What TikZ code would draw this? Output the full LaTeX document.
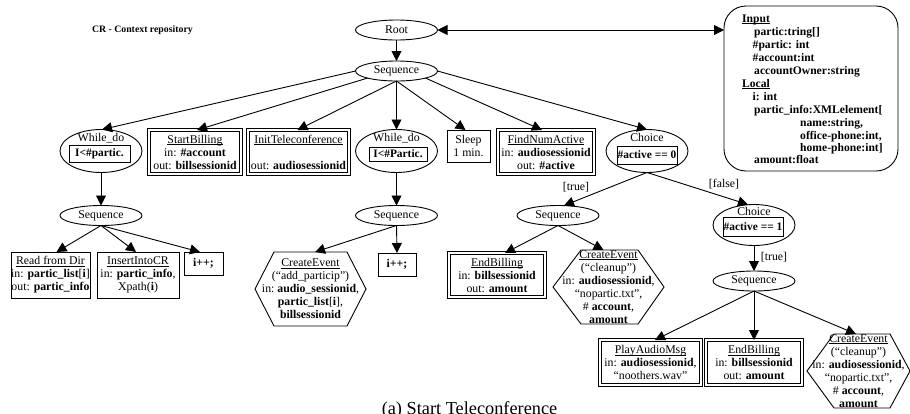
\documentclass[tikz,border=0pt]{standalone}
\usepackage{fontspec}
\setmainfont{Liberation Serif}
\usetikzlibrary{arrows.meta,shapes.geometric,calc}
\newcommand{\bb}[1]{\textbf{#1}}
\newcommand{\uu}[1]{\leavevmode\setbox0\hbox{#1}\rlap{\rule[-1.8pt]{\wd0}{0.7pt}}\box0}
\tikzset{
  x=1pt,y=-1pt,
  txt/.style={font=\fontsize{11.8}{13}\selectfont,align=center,inner sep=0pt,outer sep=0pt},
  seqnode/.style={txt,draw,line width=0.9pt,ellipse,minimum width=82pt,minimum height=20pt},
  loopnode/.style={seqnode,minimum height=43pt},
  plainbox/.style={txt,draw,line width=0.9pt},
  condbox/.style={txt,draw,line width=1pt,font=\fontsize{11.4}{13}\selectfont\bfseries},
  dblbox/.style={txt,draw,line width=0.8pt,double=white,double distance=1.6pt},
  hexlabel/.style={txt},
  hexline/.style={line width=0.9pt},
  conn/.style={line width=0.9pt,-{Triangle[length=10pt,width=10pt]}},
  bothconn/.style={line width=0.9pt,{Triangle[length=10pt,width=10pt]}-{Triangle[length=10pt,width=10pt]}},
  edgelabel/.style={txt},
  infoline/.style={anchor=base west,inner sep=0pt,font=\fontsize{11.6}{13}\selectfont\bfseries}
}
\newcommand{\boxat}[7]{\node[#6,minimum width=#4-#2,minimum height=#5-#3] (#1) at ({(#2+#4)/2},{(#3+#5)/2}) {#7};}
\newcommand{\hexat}[8]{%
  \node[hexlabel,minimum width=#4-#2,minimum height=#5-#3] (#1) at ({(#2+#4)/2},{(#3+#5)/2}) {#8};
  \draw[hexline] (#1.west) -- ([xshift=#6]#1.north west) -- ([xshift=-#7]#1.north east) -- (#1.east) -- ([xshift=-#7]#1.south east) -- ([xshift=#6]#1.south west) -- cycle;}
\begin{document}
\begin{tikzpicture}
\useasboundingbox (0,0) rectangle (910,413);
\node[txt,font=\fontsize{9.8}{12}\selectfont\bfseries,anchor=west] (title) at (92,30) {CR - Context repository};
\node[seqnode] (root) at (396.5,30) {Root};
\node[seqnode] (seq0) at (396.5,71) {Sequence};
% info box
\node[txt,draw,line width=0.9pt,rounded corners=22pt,minimum width=174pt,minimum height=165pt] (info) at (811,88.5) {};
\node[infoline] (i1) at (742,22) {\uu{Input}};
\node[infoline] (i2) at (754,35) {partic:tring[]};
\node[infoline] (i3) at (752.5,48) {\#partic: int};
\node[infoline] (i4) at (752.5,61) {\#account:int};
\node[infoline] (i5) at (754,74) {accountOwner:string};
\node[infoline] (i6) at (742,87) {\uu{Local}};
\node[infoline] (i7) at (752.5,100) {i: int};
\node[infoline] (i8) at (754,113) {partic\_info:XMLelement[};
\node[infoline] (i9) at (800,126) {name:string,};
\node[infoline] (i10) at (800,139) {office-phone:int,};
\node[infoline] (i11) at (800,151) {home-phone:int]};
\node[infoline] (i12) at (754,163) {amount:float};
% row 1
\node[loopnode] (wh1) at (101,151) {};
\node[txt,anchor=base] (wh1t) at (101,141) {While\_do};
\boxat{wh1c}{69}{145}{130}{162}{condbox}{I<\#partic.}
\boxat{sb}{149}{130}{241}{174}{dblbox}{\uu{StartBilling}\\in: \bb{\#account}\\out: \bb{billsessionid}}
\boxat{it}{248}{130}{349}{174}{dblbox}{\uu{InitTeleconference}\\[13pt]out: \bb{audiosessionid}}
\node[loopnode] (wh2) at (396.5,151) {};
\node[txt,anchor=base] (wh2t) at (396.5,141) {While\_do};
\boxat{wh2c}{369}{147}{427}{161}{condbox}{I<\#Partic.}
\boxat{sl}{447}{130}{490}{162}{plainbox}{Sleep\\1 min.}
\boxat{fn}{498}{130}{594}{174}{dblbox}{\uu{FindNumActive}\\in: \bb{audiosessionid}\\out: \bb{\#active}}
\node[loopnode] (ch1) at (647,151) {};
\node[txt,anchor=base] (ch1t) at (647,141) {Choice};
\boxat{ch1c}{617}{146}{677}{164}{condbox}{\#active == 0}
% row 2
\node[seqnode] (seq1) at (101,215.5) {Sequence};
\node[seqnode] (seq2) at (396.5,215.5) {Sequence};
\node[seqnode] (seq3) at (558,215.5) {Sequence};
\node[seqnode,minimum height=41pt] (ch2) at (754,225) {};
\node[txt,anchor=base] (ch2t) at (754,215.5) {Choice};
\boxat{ch2c}{723}{217}{783}{236}{condbox}{\#active == 1}
% row 3
\boxat{rd}{11}{252}{90}{298}{plainbox}{\uu{Read from Dir}\\in: \bb{partic\_list}[\bb{i}]\\out: \bb{partic\_info}}
\boxat{ins}{97}{252}{179}{298}{plainbox}{\uu{InsertIntoCR}\\in: \bb{partic\_info},\\Xpath(\bb{i})}
\boxat{ip1}{184}{252}{223}{275}{plainbox}{\bb{i++;}}
\hexat{ce1}{255}{252}{366}{326}{19pt}{19pt}{\uu{CreateEvent}\\(“add\_particip”)\\in:\ \bb{audio\_sessionid},\\\bb{partic\_list}[\bb{i}],\\\bb{billsessionid}}
\boxat{ip2}{378}{253}{416}{276}{plainbox}{\bb{i++;}}
\boxat{eb1}{449}{253}{545}{297}{dblbox}{\uu{EndBilling}\\in: \bb{billsessionid}\\out: \bb{amount}}
\hexat{ce2}{553}{250}{664}{324}{28pt}{26pt}{\uu{CreateEvent}\\(“cleanup”)\\in: \bb{audiosessionid},\\“nopartic.txt”,\\\# \bb{account},\\\bb{amount}}
\node[seqnode] (seq4) at (754,281) {Sequence};
\boxat{pa}{600}{340}{701}{385}{dblbox}{\uu{PlayAudioMsg}\\in: \bb{audiosessionid},\\“noothers.wav”}
\boxat{eb2}{706}{340}{802}{385}{dblbox}{\uu{EndBilling}\\in: \bb{billsessionid}\\out: \bb{amount}}
\hexat{ce3}{807}{334}{910}{408}{27pt}{20pt}{\uu{CreateEvent}\\(“cleanup”)\\in: \bb{audiosessionid},\\“nopartic.txt”,\\\# \bb{account},\\\bb{amount}}
\node[txt,font=\fontsize{18.3}{20}\selectfont,anchor=base] (cap) at (469.5,414) {(a) Start Teleconference};
% connectors
\draw[bothconn] (root.east) -- (root.east -| info.west);
\draw[conn] (root) -- (seq0);
\draw[conn] (seq0.west) -- ([xshift=1pt]wh1.north);
\draw[conn] (seq0.south west) -- ([xshift=2pt]sb.north);
\draw[conn] (seq0.south) -- ([xshift=-1pt]it.north);
\draw[conn] (seq0.south) -- (wh2.north);
\draw[conn] (seq0.south) -- ([xshift=-3pt]sl.north);
\draw[conn] (seq0.south east) -- ([xshift=-4pt]fn.north);
\draw[conn] (seq0.east) -- (ch1.north);
\draw[conn] (wh1.south) -- (seq1.north);
\draw[conn] (wh2.south) -- (seq2.north);
\draw[conn] (ch1.south) -- ([xshift=6pt]seq3.north);
\draw[conn] (ch1.south) -- ([xshift=-6pt]ch2.north);
\draw[conn] (seq1.south) -- ([xshift=6pt]rd.north);
\draw[conn] (seq1.south) -- ([xshift=-2pt]ins.north);
\draw[conn] (seq1.south) -- ([xshift=-3.5pt]ip1.north);
\draw[conn] (seq2.south) -- ([xshift=4.5pt]ce1.north);
\draw[conn] (seq2.south) -- (ip2.north);
\draw[conn] (seq3.south) -- ([xshift=8pt]eb1.north);
\draw[conn] (seq3.south) -- ([xshift=-5pt]ce2.north);
\draw[conn] (ch2.south) -- (seq4.north);
\draw[conn] (seq4.south) -- ([xshift=4.5pt]pa.north);
\draw[conn] (seq4.south) -- (eb2.north);
\draw[conn] (seq4.south) -- ([xshift=-2.5pt]ce3.north);
% edge labels
\node[edgelabel] (lt1) at (576,187) {[true]};
\node[edgelabel] (lf1) at (724,184) {[false]};
\node[edgelabel] (lt2) at (774,257) {[true]};
\end{tikzpicture}
\end{document}
